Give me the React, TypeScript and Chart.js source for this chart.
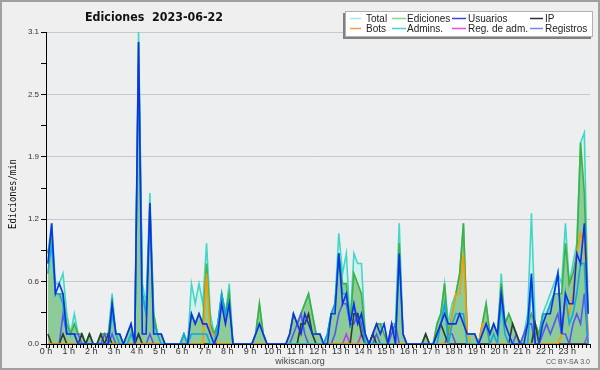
import React, { useEffect, useRef } from "react";
import { Chart, registerables } from "chart.js";
Chart.register(...registerables);

const TITLE = "Ediciones  2023-06-22";
const Y_TITLE = "Ediciones/min";
const FOOTER = "wikiscan.org";
const LICENSE = "CC BY-SA 3.0";
const BIN_MINUTES = 10;
const DAY_MINUTES = 1440;
const Y_MAX = 3.1;
const Y_STEP = 0.31;

const LEGEND_ROWS = [
  ["Total", "Ediciones", "Usuarios", "IP"],
  ["Bots", "Admins.", "Reg. de adm.", "Registros"],
];
const LEGEND_COLORS = [
  ["#a8e6dc", "#90d090", "#4040e0", "#303030"],
  ["#f0a040", "#40d0e0", "#e050e0", "#8080f0"],
];

const total = [
  0.9, 1.2, 0.6, 0.6, 0.7, 0.3, 0.1, 0.3, 0.1, 0.1, 0, 0.1,
  0, 0, 0.1, 0.1, 0.1, 0.5, 0.1, 0.1, 0, 0.1, 0.2, 0,
  3.1, 0.6, 0.4, 1.5, 0.3, 0.1, 0.1, 0, 0, 0, 0, 0,
  0.1, 0, 0.6, 0.4, 0.6, 0.4, 1.0, 0.3, 0.1, 0.2, 0.5, 0.3,
  0.6, 0, 0, 0, 0, 0, 0, 0.1, 0.4, 0.1, 0, 0,
  0, 0, 0, 0, 0.1, 0.3, 0.2, 0.3, 0.4, 0.5, 0.3, 0.1,
  0.1, 0, 0.1, 0.3, 0.4, 1.1, 0.7, 0.9, 0.2, 0.9, 0.8, 0.8,
  0.1, 0, 0.1, 0.2, 0.2, 0.2, 0, 0.2, 0.2, 1.2, 0.1, 0,
  0, 0, 0, 0, 0.1, 0, 0, 0.2, 0.3, 0.6, 0.2, 0.4,
  0.5, 0.7, 1.2, 0.1, 0.1, 0.1, 0, 0.2, 0.4, 0.1, 0.2, 0.1,
  0.7, 0.2, 0.3, 0.2, 0.1, 0, 0.1, 0.3, 1.3, 0.2, 0.1, 0.3,
  0.4, 0.5, 0.6, 0.7, 0.6, 1.2, 0.6, 0.8, 1.0, 2.0, 2.1, 0.3,
];
const ediciones = [
  0.9, 1.1, 0.5, 0.5, 0.5, 0.2, 0.1, 0.2, 0.1, 0.1, 0, 0.1,
  0, 0, 0.1, 0.1, 0.1, 0.4, 0.1, 0.1, 0, 0.1, 0.2, 0,
  3.0, 0.5, 0.3, 1.4, 0.3, 0.1, 0.1, 0, 0, 0, 0, 0,
  0.1, 0, 0.3, 0.2, 0.3, 0.2, 0.8, 0.2, 0.1, 0.2, 0.5, 0.3,
  0.5, 0, 0, 0, 0, 0, 0, 0.1, 0.4, 0.1, 0, 0,
  0, 0, 0, 0, 0.1, 0.3, 0.2, 0.3, 0.4, 0.5, 0.3, 0.1,
  0.1, 0, 0.1, 0.3, 0.4, 0.9, 0.6, 0.6, 0.2, 0.7, 0.6, 0.5,
  0.1, 0, 0.1, 0.2, 0.2, 0.1, 0, 0.2, 0.1, 1.0, 0.1, 0,
  0, 0, 0, 0, 0.1, 0, 0, 0.2, 0.3, 0.6, 0.1, 0.3,
  0.5, 0.7, 1.2, 0.1, 0.1, 0.1, 0, 0.2, 0.4, 0.1, 0.2, 0.1,
  0.6, 0.2, 0.3, 0.2, 0.1, 0, 0.1, 0.2, 0.3, 0.2, 0.1, 0.3,
  0.3, 0.4, 0.5, 0.5, 0.5, 1.0, 0.6, 0.7, 0.9, 2.0, 1.5, 0.3,
];
const usuarios = [
  0.8, 1.2, 0.5, 0.6, 0.5, 0.1, 0.1, 0.1, 0, 0, 0, 0,
  0, 0, 0, 0, 0, 0.4, 0.1, 0.1, 0, 0.1, 0.2, 0,
  3.0, 0.1, 0.1, 1.4, 0.1, 0.1, 0.1, 0, 0, 0, 0, 0,
  0, 0, 0.3, 0.2, 0.3, 0.2, 0.2, 0.1, 0, 0.1, 0.4, 0.2,
  0.4, 0, 0, 0, 0, 0, 0, 0.1, 0.2, 0.1, 0, 0,
  0, 0, 0, 0, 0.1, 0.3, 0.2, 0.1, 0.3, 0.2, 0.1, 0.1,
  0.1, 0, 0, 0.3, 0.3, 0.9, 0.4, 0.5, 0.2, 0.4, 0.2, 0.3,
  0.1, 0, 0.1, 0.2, 0.1, 0.2, 0, 0.2, 0, 0.9, 0.1, 0,
  0, 0, 0, 0, 0, 0, 0, 0.1, 0.2, 0.3, 0.2, 0.2,
  0.2, 0.3, 0.2, 0.1, 0.1, 0.1, 0, 0.1, 0.2, 0.1, 0.2, 0.1,
  0.5, 0.2, 0.1, 0, 0, 0, 0, 0.2, 0.7, 0, 0, 0.2,
  0.3, 0.3, 0.5, 0.7, 0.1, 0.5, 0.4, 0.4, 0.9, 0.8, 1.2, 0.3,
];
const ip = [
  0.1, 0, 0, 0, 0.1, 0, 0, 0, 0, 0.1, 0, 0.1,
  0, 0, 0.1, 0, 0.1, 0, 0, 0, 0, 0, 0, 0,
  0.1, 0, 0, 0, 0, 0, 0, 0, 0, 0, 0, 0,
  0, 0, 0, 0, 0, 0, 0, 0, 0, 0, 0, 0,
  0, 0, 0, 0, 0, 0, 0, 0, 0, 0, 0, 0,
  0, 0, 0, 0, 0, 0, 0, 0.2, 0.2, 0.3, 0.1, 0,
  0, 0, 0, 0, 0, 0, 0, 0, 0, 0.3, 0.3, 0.1,
  0, 0, 0.1, 0, 0, 0, 0, 0, 0, 0, 0, 0,
  0, 0, 0, 0, 0.1, 0, 0, 0.1, 0.2, 0.1, 0, 0,
  0, 0, 0, 0, 0, 0, 0, 0, 0, 0, 0, 0,
  0, 0, 0, 0.2, 0.1, 0, 0, 0, 0, 0.2, 0, 0,
  0, 0, 0, 0, 0, 0, 0, 0, 0, 0, 0, 0,
];
const bots = [
  0, 0, 0, 0, 0, 0, 0, 0, 0, 0, 0, 0,
  0, 0, 0, 0, 0, 0, 0, 0, 0, 0, 0, 0,
  0, 0, 0, 0, 0, 0, 0, 0, 0, 0, 0, 0,
  0, 0, 0, 0, 0, 0, 0.7, 0.1, 0.1, 0, 0, 0,
  0, 0, 0, 0, 0, 0, 0, 0, 0, 0, 0, 0,
  0, 0, 0, 0, 0, 0, 0, 0, 0, 0, 0, 0,
  0, 0, 0, 0, 0, 0, 0, 0, 0, 0, 0, 0,
  0, 0, 0, 0, 0, 0, 0, 0, 0, 0, 0, 0,
  0, 0, 0, 0, 0, 0, 0, 0, 0, 0, 0, 0.3,
  0.5, 0.5, 0.9, 0.1, 0, 0, 0, 0.2, 0.2, 0, 0, 0,
  0, 0, 0, 0, 0, 0, 0, 0, 0, 0, 0, 0,
  0, 0, 0, 0, 0.1, 0.4, 0.3, 0.5, 0.9, 1.1, 1.0, 0.1,
];
const admins = [
  0.7, 1.0, 0.5, 0.5, 0.4, 0.1, 0.1, 0.1, 0, 0, 0, 0,
  0, 0, 0, 0, 0, 0.3, 0.1, 0, 0, 0, 0.1, 0,
  2.8, 0.5, 0.3, 1.3, 0.2, 0.1, 0, 0, 0, 0, 0, 0,
  0.1, 0, 0.1, 0.1, 0.1, 0.1, 0.1, 0, 0, 0.2, 0.5, 0.3,
  0.4, 0, 0, 0, 0, 0, 0, 0.1, 0.2, 0.1, 0, 0,
  0, 0, 0, 0, 0, 0, 0, 0, 0, 0, 0, 0,
  0, 0, 0.1, 0.3, 0.4, 0.9, 0.5, 0.5, 0.2, 0.4, 0.2, 0.3,
  0, 0, 0, 0, 0, 0, 0, 0, 0, 0.9, 0.1, 0,
  0, 0, 0, 0, 0, 0, 0, 0, 0.2, 0.4, 0, 0.2,
  0.3, 0.3, 0.3, 0, 0, 0, 0, 0.1, 0.2, 0, 0.1, 0,
  0.4, 0.1, 0, 0, 0, 0, 0, 0, 0.6, 0, 0, 0.3,
  0.3, 0.4, 0.5, 0.7, 0.1, 0.5, 0.2, 0.3, 0.5, 0.8, 0.8, 0,
];
const regAdm = [
  0, 0, 0, 0, 0, 0, 0, 0, 0, 0, 0, 0,
  0, 0, 0, 0, 0, 0, 0, 0, 0, 0, 0, 0,
  0, 0, 0, 0, 0, 0, 0, 0, 0, 0, 0, 0,
  0, 0, 0, 0, 0, 0, 0, 0, 0, 0, 0, 0,
  0, 0, 0, 0, 0, 0, 0, 0, 0, 0, 0, 0,
  0, 0, 0, 0, 0, 0, 0, 0, 0, 0, 0, 0,
  0, 0, 0, 0, 0, 0, 0, 0.1, 0, 0, 0, 0.1,
  0, 0, 0, 0, 0, 0, 0, 0, 0, 0, 0, 0,
  0, 0, 0, 0, 0, 0, 0, 0, 0, 0, 0, 0,
  0, 0, 0, 0, 0, 0, 0, 0, 0, 0, 0, 0,
  0, 0, 0, 0, 0, 0, 0, 0, 0, 0, 0, 0,
  0, 0, 0, 0, 0, 0, 0, 0, 0, 0, 0, 0.1,
];
const registros = [
  0, 0, 0, 0, 0.3, 0.1, 0.1, 0.1, 0.1, 0, 0, 0,
  0, 0, 0, 0.1, 0, 0.1, 0, 0, 0, 0, 0, 0,
  0.1, 0, 0, 0.1, 0, 0, 0, 0, 0, 0, 0, 0,
  0, 0, 0, 0, 0, 0, 0, 0, 0, 0, 0, 0,
  0, 0, 0, 0, 0, 0, 0, 0, 0, 0, 0, 0,
  0, 0, 0, 0, 0, 0.1, 0.2, 0.3, 0.1, 0, 0, 0,
  0, 0, 0, 0, 0.1, 0.3, 0.4, 0.4, 0.2, 0.2, 0.3, 0.2,
  0, 0, 0, 0.1, 0, 0, 0, 0.1, 0.2, 0, 0, 0,
  0, 0, 0, 0, 0, 0, 0, 0, 0, 0, 0.1, 0.1,
  0, 0, 0, 0, 0, 0, 0, 0, 0, 0, 0, 0,
  0, 0, 0, 0, 0.1, 0, 0.1, 0.2, 0.2, 0, 0, 0.1,
  0.2, 0.1, 0.2, 0.3, 0.1, 0.1, 0, 0.2, 0.3, 0.2, 0.5, 0,
];

export default function App() {
  const ref = useRef<HTMLCanvasElement>(null);

  useEffect(() => {
    const canvas = ref.current!;
    const toXY = (arr: number[]) =>
      arr.map((y, i) => ({ x: i * BIN_MINUTES + BIN_MINUTES / 2, y }));

    const bgPlugin = {
      id: "bg",
      beforeDraw(chart: any) {
        const { ctx, chartArea: a } = chart;
        ctx.save();
        ctx.fillStyle = "#efefef";
        ctx.fillRect(0, 0, chart.width, chart.height);
        ctx.fillStyle = "#eceef0";
        ctx.fillRect(a.left, a.top, a.right - a.left, a.bottom - a.top);
        ctx.restore();
      },
    };

    const fitText = (ctx: CanvasRenderingContext2D, text: string, x: number, y: number, w: number) => {
      const m = ctx.measureText(text).width;
      ctx.save();
      ctx.translate(x, y);
      ctx.scale(w / m, 1);
      ctx.fillText(text, 0, 0);
      ctx.restore();
    };

    const decoPlugin = {
      id: "deco",
      afterDraw(chart: any) {
        const { ctx } = chart;
        ctx.save();
        // title
        ctx.fillStyle = "#111";
        ctx.font = "bold 13px 'DejaVu Sans'";
        ctx.textAlign = "left";
        ctx.textBaseline = "alphabetic";
        fitText(ctx, TITLE, 85, 21, 138);
        // y title
        ctx.save();
        ctx.translate(13, 194);
        ctx.rotate(-Math.PI / 2);
        ctx.font = "11px 'DejaVu Sans Mono'";
        ctx.textAlign = "left";
        ctx.textBaseline = "middle";
        ctx.fillStyle = "#111";
        const yw = ctx.measureText(Y_TITLE).width;
        ctx.scale(70 / yw, 1);
        ctx.fillText(Y_TITLE, -yw / 2, 0);
        ctx.restore();
        // legend
        const bx = 345, by = 11, bw = 248, bh = 26;
        ctx.fillStyle = "#808080";
        ctx.fillRect(bx - 2, by + 2, bw, bh);
        ctx.fillStyle = "#ffffff";
        ctx.fillRect(bx, by, bw, bh);
        ctx.strokeStyle = "#b0b0b0";
        ctx.lineWidth = 1;
        ctx.strokeRect(bx + 0.5, by + 0.5, bw - 1, bh - 1);
        const lineX = [350, 392, 452, 530];
        const lineW = [11, 14, 14, 13];
        const textX = [366, 407, 468, 545];
        const rowY = [18.5, 28.5];
        ctx.font = "10px 'Liberation Sans'";
        ctx.textBaseline = "middle";
        ctx.textAlign = "left";
        LEGEND_ROWS.forEach((row, r) => {
          row.forEach((name, c) => {
            ctx.strokeStyle = LEGEND_COLORS[r][c];
            ctx.lineWidth = 1.5;
            ctx.beginPath();
            ctx.moveTo(lineX[c], rowY[r]);
            ctx.lineTo(lineX[c] + lineW[c], rowY[r]);
            ctx.stroke();
            ctx.fillStyle = "#222";
            ctx.fillText(name, textX[c], rowY[r] + 0.5);
          });
        });
        // footer
        ctx.fillStyle = "#444";
        ctx.font = "9px 'Liberation Sans'";
        ctx.textAlign = "center";
        ctx.textBaseline = "middle";
        ctx.fillText(FOOTER, 300, 362);
        ctx.font = "7px 'Liberation Sans'";
        ctx.textAlign = "right";
        ctx.fillStyle = "#555";
        ctx.fillText(LICENSE, 590, 362);
        // border
        ctx.strokeStyle = "#a0a0a0";
        ctx.lineWidth = 2;
        ctx.strokeRect(1, 1, 598, 368);
        ctx.restore();
      },
    };

    const line = (label: string, data: number[], color: string, order: number, extra: any = {}) => ({
      label,
      data: toXY(data),
      borderColor: color,
      borderWidth: 1.6,
      pointRadius: 0,
      tension: 0,
      fill: false,
      order,
      ...extra,
    });

    const chart = new Chart(canvas, {
      type: "line",
      data: {
        datasets: [
          line("Total", total, "#40d8c8", 10, { fill: "origin", backgroundColor: "rgba(205,240,232,0.75)" }),
          line("Ediciones", ediciones, "#40b040", 9, { fill: "origin", backgroundColor: "rgba(70,165,70,0.5)" }),
          line("Registros", registros, "#5858f0", 7),
          line("Reg. de adm.", regAdm, "#c040e0", 6),
          line("IP", ip, "#2c3c2c", 5),
          line("Bots", bots, "#ff9900", 4),
          line("Admins.", admins, "#10a8e0", 3),
          line("Usuarios", usuarios, "#1030e8", 2),
        ],
      },
      options: {
        responsive: false,
        animation: false,
        devicePixelRatio: 1,
        layout: { padding: { top: 32, right: 10, left: 0, bottom: 0 } },
        plugins: { legend: { display: false }, tooltip: { enabled: false }, title: { display: false } },
        scales: {
          x: {
            type: "linear",
            min: 0,
            max: DAY_MINUTES,
            afterFit: (s: any) => { s.height = 26; },
            border: { display: true, color: "#000", width: 1 },
            grid: { drawOnChartArea: false, drawTicks: true, tickLength: 4, tickColor: "#000", color: "#000" },
            ticks: {
              stepSize: BIN_MINUTES,
              autoSkip: false,
              maxRotation: 0,
              padding: -2,
              color: "#333",
              font: { family: "'Liberation Sans'", size: 9 },
              callback: (v: any) => (v % 60 === 0 && v < DAY_MINUTES ? `${v / 60} h` : ""),
            },
          },
          y: {
            min: 0,
            max: Y_MAX,
            afterFit: (s: any) => { s.width = 46; },
            border: { display: true, color: "#000", width: 1 },
            grid: {
              drawTicks: true,
              tickLength: 5,
              tickColor: "#000",
              color: (c: any) => (c.index % 2 === 0 ? "#c8c8c8" : "rgba(0,0,0,0)"),
            },
            ticks: {
              stepSize: Y_STEP,
              padding: 2,
              color: "#333",
              font: { family: "'Liberation Sans'", size: 8 },
              callback: (v: any) => {
                const k = Math.round(v / Y_STEP);
                return k % 2 === 0 ? Number(v).toFixed(1) : "";
              },
            },
          },
        },
      },
      plugins: [bgPlugin, decoPlugin],
    } as any);
    return () => chart.destroy();
  }, []);

  return (
    <div style={{ position: "fixed", left: 0, top: 0, width: 600, height: 370 }}>
      <canvas ref={ref} width={600} height={370} style={{ display: "block" }} />
    </div>
  );
}
